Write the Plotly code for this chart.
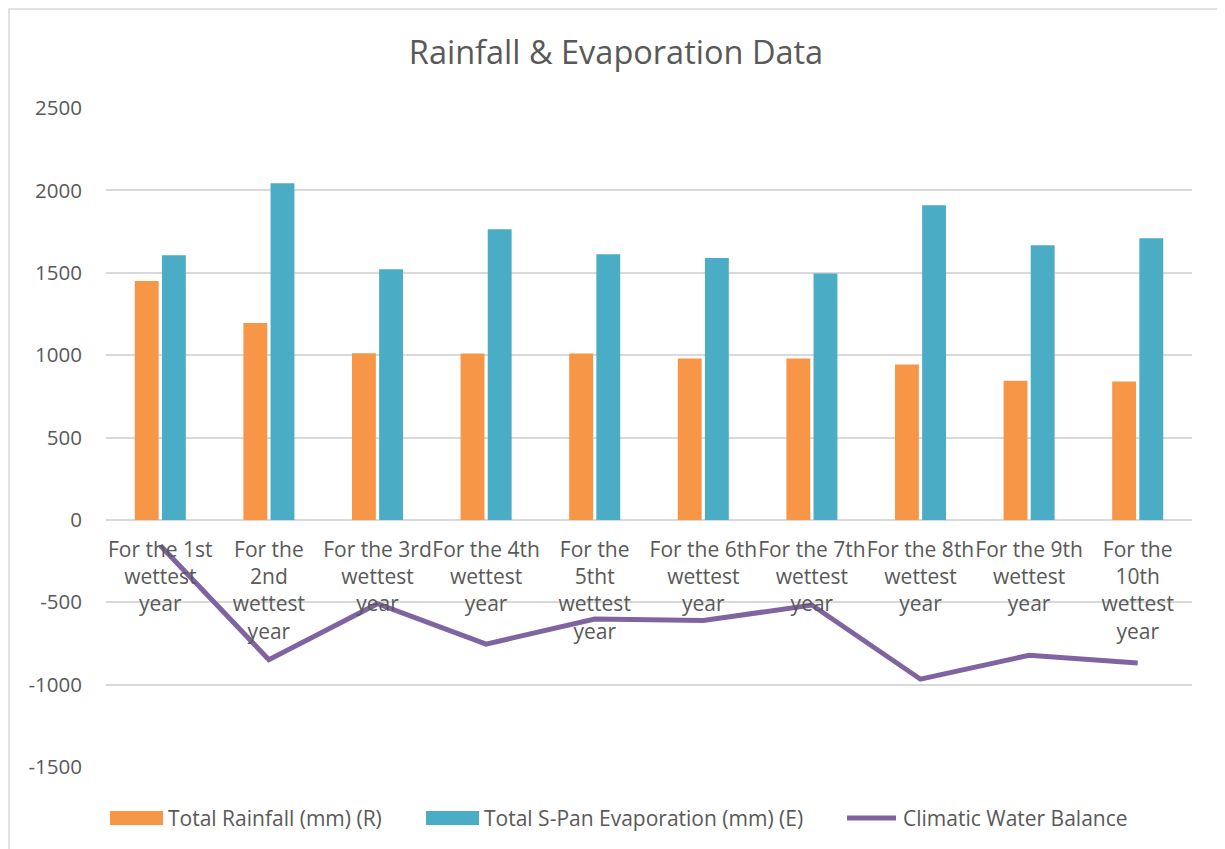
import plotly.graph_objects as go

categories = [
    "For the 1st<br>wettest<br>year",
    "For the<br>2nd<br>wettest<br>year",
    "For the 3rd<br>wettest<br>year",
    "For the 4th<br>wettest<br>year",
    "For the<br>5tht<br>wettest<br>year",
    "For the 6th<br>wettest<br>year",
    "For the 7th<br>wettest<br>year",
    "For the 8th<br>wettest<br>year",
    "For the 9th<br>wettest<br>year",
    "For the<br>10th<br>wettest<br>year",
]
rainfall = [1450, 1195, 1012, 1010, 1010, 979, 979, 943, 845, 840]
evaporation = [1606, 2044, 1521, 1764, 1612, 1590, 1496, 1910, 1667, 1709]
balance = [-156, -849, -509, -754, -602, -611, -517, -967, -822, -869]
y_ticks = [-1500, -1000, -500, 0, 500, 1000, 1500, 2000, 2500]
y_ticktext = [str(v) for v in y_ticks]

names = ["Total Rainfall (mm) (R)", "Total S-Pan Evaporation (mm) (E)", "Climatic Water Balance"]
colors = ["#F79646", "#4BACC6", "#8064A2"]

FONT = "Open Sans"
TXT = "#595959"

fig = go.Figure()
fig.add_trace(go.Bar(x=categories, y=rainfall, name=names[0],
                     marker=dict(color=colors[0], line=dict(width=0))))
fig.add_trace(go.Bar(x=categories, y=evaporation, name=names[1],
                     marker=dict(color=colors[1], line=dict(width=0))))
fig.add_trace(go.Scatter(x=categories, y=balance, name=names[2],
                         mode="lines", line=dict(color=colors[2], width=5)))

# figure is placed 8px in from the page corner (body margin)
OFF = 8
W, H = 1225 - OFF, 849 - OFF
# plot area in reference-page pixels
PX0, PX1, PY0, PY1 = 106, 1192, 108, 767
L, R, T, B = PX0 - OFF, W - (PX1 - OFF), PY0 - OFF, H - (PY1 - OFF)
pw, ph = PX1 - PX0, PY1 - PY0


def px(x):
    return (x - PX0) / pw


def py(y):
    return (PY1 - y) / ph


fig.update_layout(
    width=W, height=H,
    margin=dict(l=L, r=R, t=T, b=B),
    paper_bgcolor="white", plot_bgcolor="white",
    font=dict(family=FONT, size=21, color=TXT),
    title=dict(text="Rainfall & Evaporation Data", x=(616 - OFF) / W, xanchor="center",
               y=1 - (53 - OFF) / H, yanchor="middle",
               font=dict(family=FONT, size=32.5, color=TXT)),
    barmode="group", bargap=0.5, bargroupgap=0.12,
    showlegend=False,
    xaxis=dict(anchor="free", position=1500 / 4000, showline=False, showgrid=False,
               ticks="", tickangle=0, tickfont=dict(family=FONT, size=21, color=TXT),
               ticklabelstandoff=15),
    yaxis=dict(range=[-1500, 2500], tickvals=y_ticks, ticktext=y_ticktext, showgrid=True,
               gridcolor="#D9D9D9", gridwidth=1.5, zeroline=True,
               zerolinecolor="#D9D9D9", zerolinewidth=1.5, showline=False,
               ticks="", tickfont=dict(family=FONT, size=20.5, color=TXT),
               ticklabelstandoff=23),
)

# chart border
fig.add_shape(type="rect", xref="paper", yref="paper",
              x0=px(9), x1=px(1220), y0=py(870), y1=py(9),
              line=dict(color="#D9D9D9", width=1.5), fillcolor="rgba(0,0,0,0)",
              layer="below")

# legend (drawn manually to match wide swatches)
legend_swatch_x = [110, 426, 845]
LEG_Y = 818
for i, (name, col, sx) in enumerate(zip(names, colors, legend_swatch_x)):
    if i < 2:
        fig.add_shape(type="rect", xref="paper", yref="paper",
                      x0=px(sx), x1=px(sx + 53), y0=py(LEG_Y + 7), y1=py(LEG_Y - 7),
                      fillcolor=col, line=dict(width=0))
    else:
        fig.add_shape(type="line", xref="paper", yref="paper",
                      x0=px(sx + 2), x1=px(sx + 51), y0=py(LEG_Y), y1=py(LEG_Y),
                      line=dict(color=col, width=5))
    fig.add_annotation(xref="paper", yref="paper", x=px(sx + 56), y=py(LEG_Y),
                       xanchor="left", yanchor="middle", showarrow=False,
                       text=name, font=dict(family=FONT, size=21, color=TXT))

fig.write_html("out.html")
